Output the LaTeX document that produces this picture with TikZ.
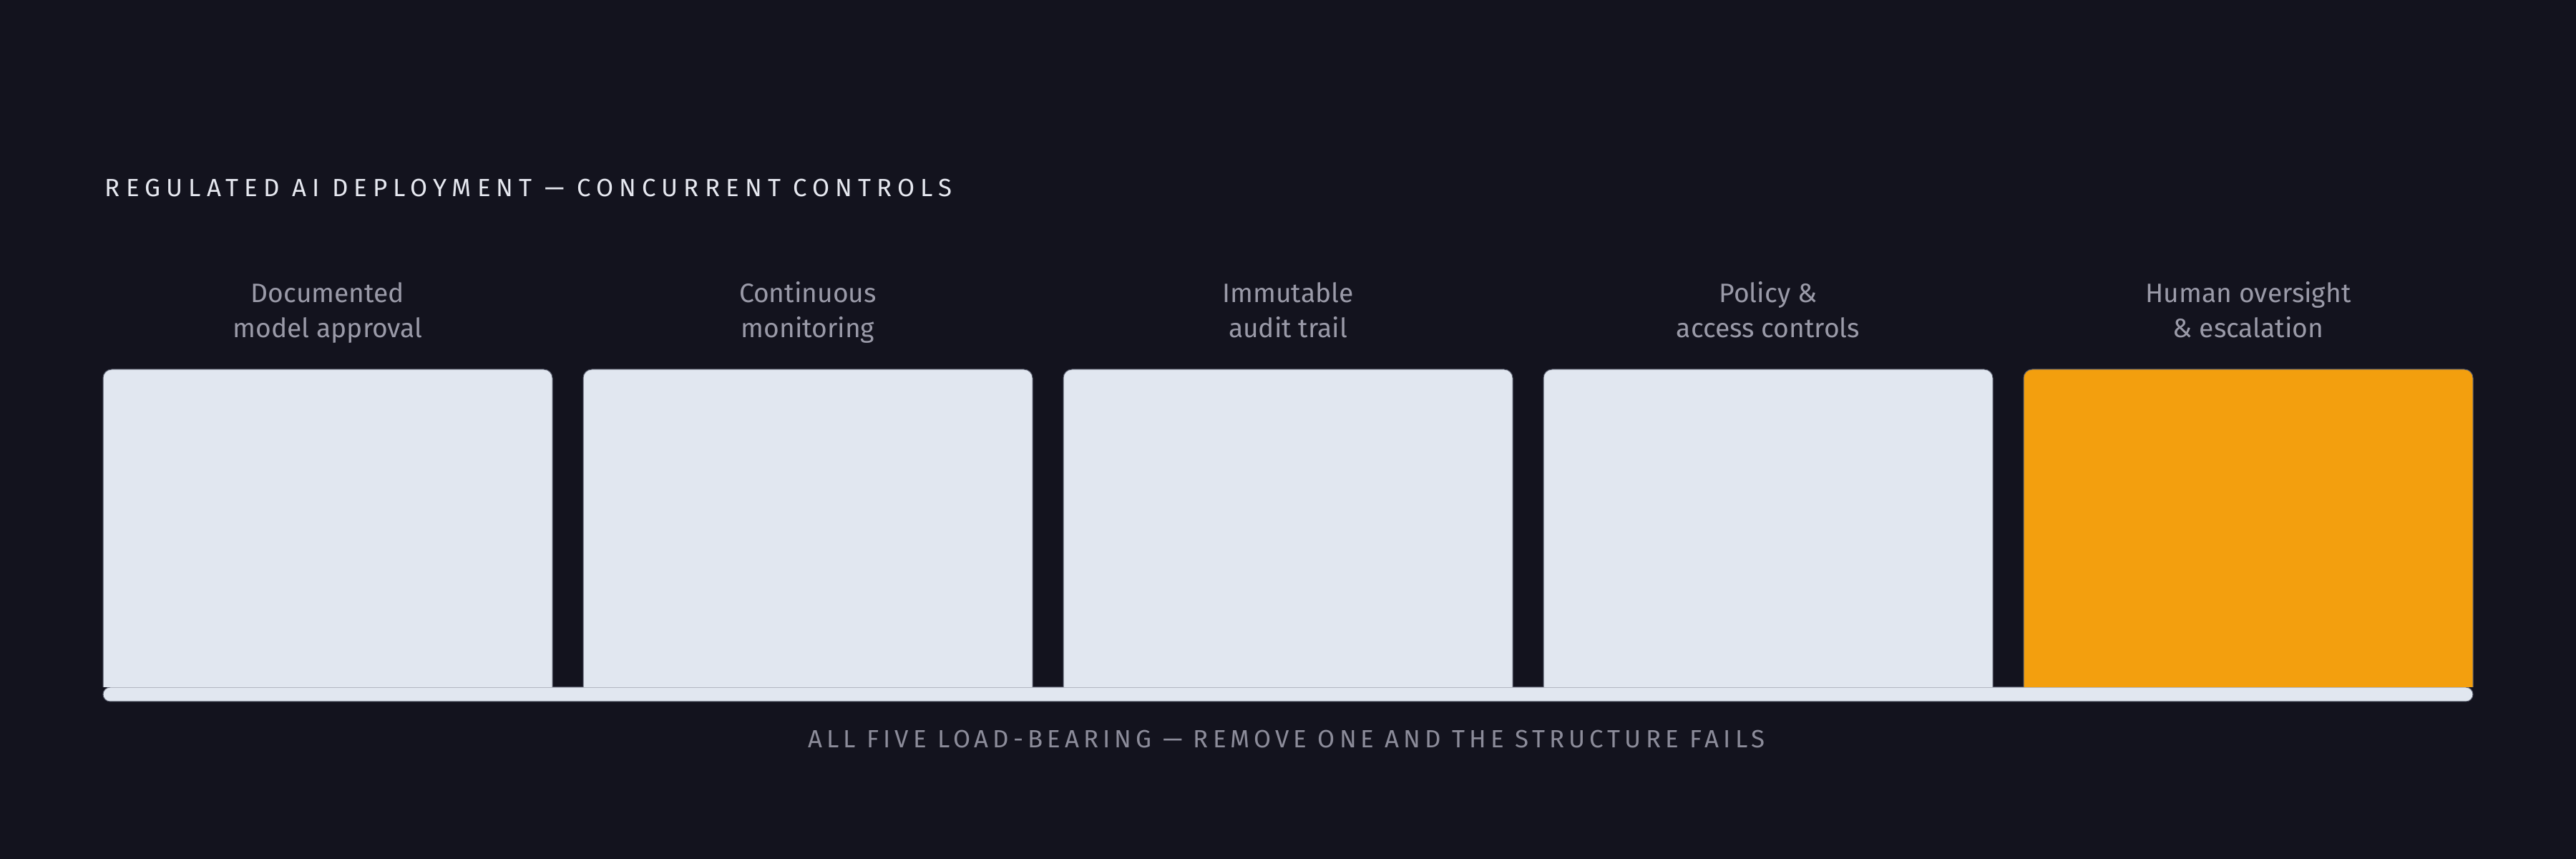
\documentclass[tikz,border=0pt]{standalone}
\usepackage{fontspec}
\setmainfont{Fira Sans}
\newfontfamily\tracked[LetterSpace=23.5]{Fira Sans}
\newfontfamily\trackedlow[LetterSpace=17.5]{Fira Sans}

\definecolor{night}{HTML}{13131E}
\definecolor{paper}{HTML}{E1E7F0}
\definecolor{amber}{HTML}{F39F0E}
\definecolor{mist}{HTML}{9A9AA8}
\definecolor{chalk}{HTML}{E6E8F0}
\definecolor{dim}{HTML}{8C8C9A}
\definecolor{rim}{HTML}{5C6070}

\tikzset{
	slot/.style={minimum width=157pt, minimum height=111pt, inner sep=0pt, outer sep=0pt},
	pillar/.style={fill=paper, draw=rim, line width=0.25pt},
	keystone/.style={fill=amber, draw=rim, line width=0.25pt},
	caption/.style={text=mist, align=center, anchor=base, inner sep=0pt,
		font=\fontsize{9.3}{12.25}\selectfont},
	heading/.style={text=chalk, anchor=base west, inner sep=0pt,
		font=\fontsize{8.7}{10}\selectfont\tracked},
	footer/.style={text=dim, anchor=base, inner sep=0pt,
		font=\fontsize{8.7}{10}\selectfont\trackedlow},
	plinth/.style={fill=paper, draw=rim, line width=0.25pt, rounded corners=2.5pt,
		minimum width=828pt, minimum height=5pt, inner sep=0pt, outer sep=0pt}
}

\begin{document}
\begin{tikzpicture}[x=1pt, y=1pt]
		\fill[night] (0,0) rectangle (900,300);
		\useasboundingbox (0,0) rectangle (900,300);

		\node[heading] (title) at (36.5, 231.3) {REGULATED AI DEPLOYMENT — CONCURRENT CONTROLS};

		\node[slot] (p1) at (114.5,  115.5) {};
		\node[slot] (p2) at (282.25, 115.5) {};
		\node[slot] (p3) at (450,    115.5) {};
		\node[slot] (p4) at (617.75, 115.5) {};
		\node[slot] (p5) at (785.5,  115.5) {};

		\node[plinth] (bar) at (450, 57.5) {};

		\filldraw[pillar]   (p1.south west) [rounded corners=3pt] |- (p1.north) -| (p1.south east);
		\filldraw[pillar]   (p2.south west) [rounded corners=3pt] |- (p2.north) -| (p2.south east);
		\filldraw[pillar]   (p3.south west) [rounded corners=3pt] |- (p3.north) -| (p3.south east);
		\filldraw[pillar]   (p4.south west) [rounded corners=3pt] |- (p4.north) -| (p4.south east);
		\filldraw[keystone] (p5.south west) [rounded corners=3pt] |- (p5.north) -| (p5.south east);

		\node[caption] (c1) at (114.5,  182.1) {Documented\\model approval};
		\node[caption] (c2) at (282.25, 182.1) {Continuous\\monitoring};
		\node[caption] (c3) at (450,    182.1) {Immutable\\audit trail};
		\node[caption] (c4) at (617.75, 182.1) {Policy \&\\access controls};
		\node[caption] (c5) at (785.5,  182.1) {Human oversight\\\& escalation};

		\node[footer] (note) at (449.5, 38.75) {ALL FIVE LOAD-BEARING — REMOVE ONE AND THE STRUCTURE FAILS};
	\end{tikzpicture}
\end{document}
